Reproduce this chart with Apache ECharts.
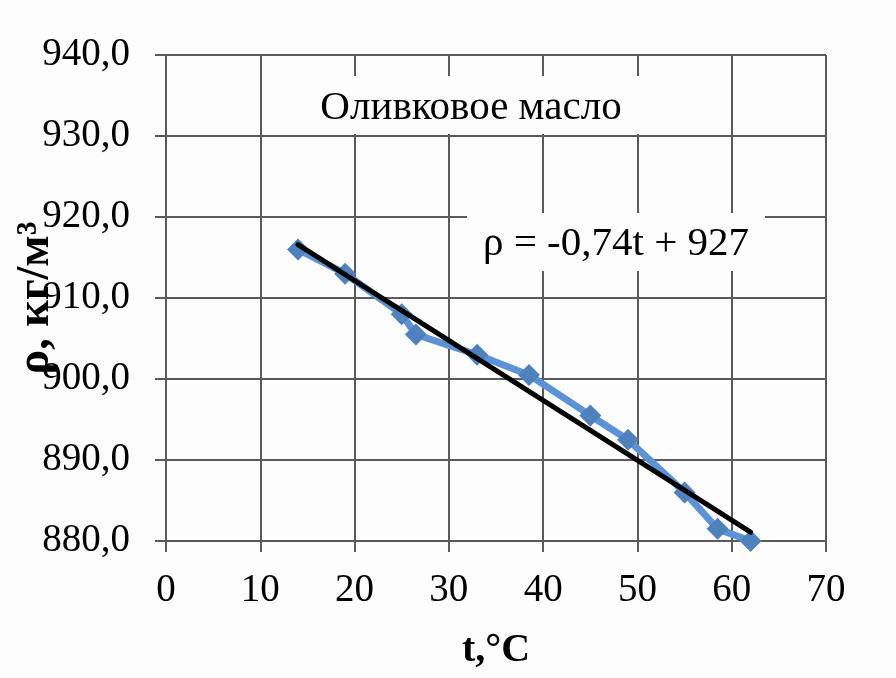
<!DOCTYPE html>
<html>
<head>
<meta charset="utf-8">
<script src="https://cdn.jsdelivr.net/npm/echarts@6/dist/echarts.min.js"></script>
<style>
html,body{margin:0;padding:0;background:#fdfdfd;}
#chart{width:896px;height:678px;}
</style>
</head>
<body>
<div id="chart"></div>
<script>
// Data
const tempC = [14, 19, 25, 26.5, 33, 38.5, 45, 49, 55, 58.5, 62];
const densityKgM3 = [916, 913, 908, 905.5, 903, 900.5, 895.5, 892.5, 886, 881.5, 880];
const trendT = [14, 62];
const trendRho = [916.6, 881.1];
const xMin = 0, xMax = 70, xStep = 10;
const yMin = 880, yMax = 940, yStep = 10;
const titleText = 'Оливковое масло';
const equationText = 'ρ = -0,74t + 927';
const xName = 't,°C';
const yName = 'ρ, кг/м³';

const chart = echarts.init(document.getElementById('chart'));
const serif = '"Liberation Serif", "Times New Roman", serif';
const gridColor = '#5a5a5a';

const option = {
  backgroundColor: '#fdfdfd',
  animation: false,
  grid: { left: 166, right: 70, top: 55, bottom: 137, containLabel: false, outerBoundsMode: 'none' },
  xAxis: {
    type: 'value', min: xMin, max: xMax, interval: xStep,
    name: xName, nameLocation: 'middle', nameGap: 90, nameMoveOverlap: false,
    nameTextStyle: { fontFamily: serif, fontSize: 40, fontWeight: 'bold', color: '#000' },
    axisLine: { show: true, onZero: false, lineStyle: { color: gridColor, width: 2 } },
    axisTick: { show: true, length: 11, lineStyle: { color: gridColor, width: 2 } },
    axisLabel: { fontFamily: serif, fontSize: 39, color: '#000', margin: 30 },
    splitLine: { show: true, lineStyle: { color: gridColor, width: 2 } }
  },
  yAxis: {
    type: 'value', min: yMin, max: yMax, interval: yStep,
    name: yName, nameLocation: 'middle', nameGap: 107, nameMoveOverlap: false,
    nameTextStyle: { fontFamily: serif, fontSize: 46, fontWeight: 'bold', color: '#000' },
    axisLine: { show: true, lineStyle: { color: gridColor, width: 2 } },
    axisTick: { show: true, length: 11, lineStyle: { color: gridColor, width: 2 } },
    axisLabel: { fontFamily: serif, fontSize: 39, color: '#000', margin: 36,
      formatter: v => v.toFixed(1).replace('.', ',') },
    splitLine: { show: true, lineStyle: { color: gridColor, width: 2 } }
  },
  graphic: [
    { type: 'rect', z: 1, shape: { x: 290, y: 76, width: 360, height: 58 }, style: { fill: '#fdfdfd' } },
    { type: 'text', z: 3, x: 471, y: 108, style: { text: titleText, font: '41px ' + serif, fill: '#000', align: 'center', verticalAlign: 'middle' } },
    { type: 'rect', z: 1, shape: { x: 467, y: 213, width: 298, height: 58 }, style: { fill: '#fdfdfd' } },
    { type: 'text', z: 3, x: 616, y: 244, style: { text: equationText, font: '41px ' + serif, fill: '#000', align: 'center', verticalAlign: 'middle' } }
  ],
  series: [
    {
      type: 'line', z: 2,
      data: tempC.map((t, i) => [t, densityKgM3[i]]),
      symbol: 'diamond', symbolSize: 22,
      lineStyle: { color: '#5b93d6', width: 7 },
      itemStyle: { color: '#4f81bd' }
    },
    {
      type: 'line', z: 4,
      data: trendT.map((t, i) => [t, trendRho[i]]),
      symbol: 'none',
      lineStyle: { color: '#000', width: 5, cap: 'round' }
    }
  ]
};
chart.setOption(option);
</script>
</body>
</html>
